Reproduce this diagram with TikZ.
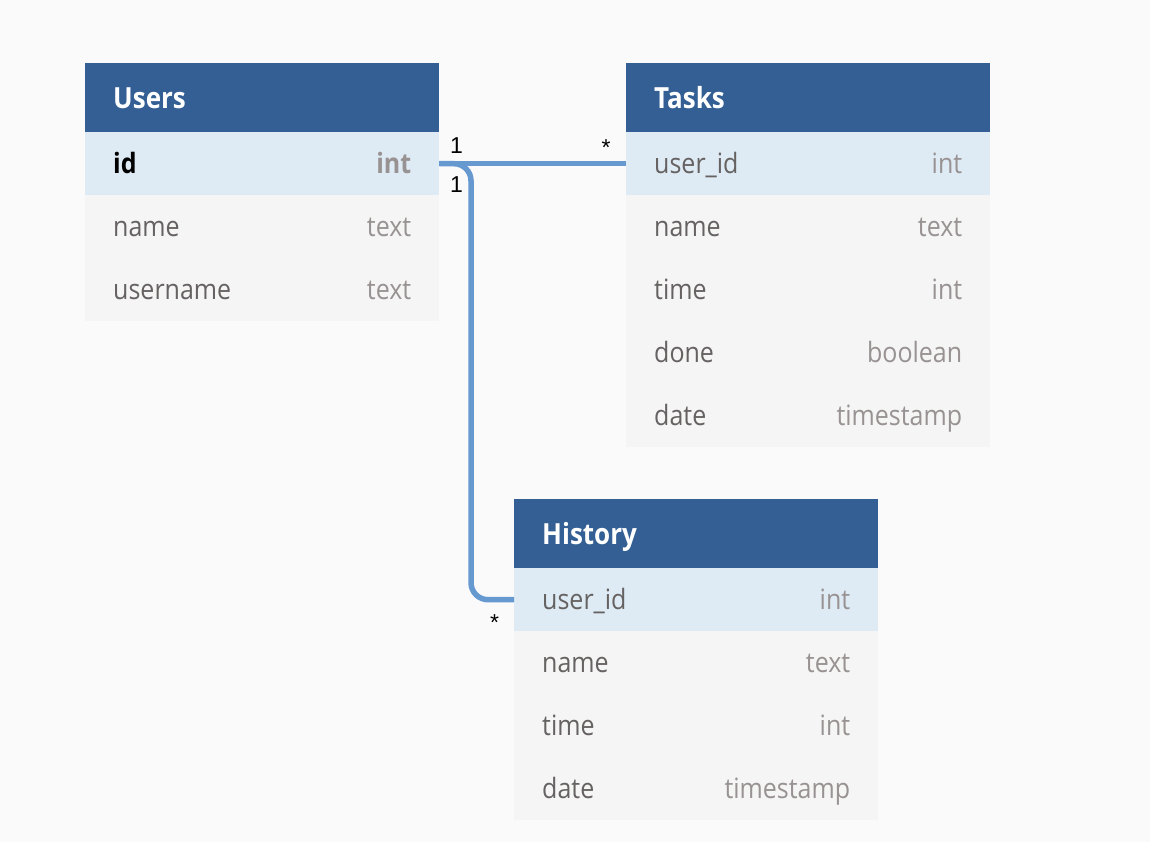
\documentclass[tikz,border=0pt]{standalone}
\usepackage{graphicx}
\usepackage{fontspec}
\setmainfont{Open Sans}
\newfontfamily\cardfont{Liberation Sans}
\usetikzlibrary{calc}
\usetikzlibrary{positioning}

\definecolor{bgcol}{HTML}{FAFAFA}
\definecolor{headblue}{HTML}{335F94}
\definecolor{keyblue}{HTML}{DEEBF5}
\definecolor{plainrow}{HTML}{F5F5F5}
\definecolor{fieldgray}{HTML}{666262}
\definecolor{typegray}{HTML}{989292}
\definecolor{linkblue}{HTML}{6699D0}

\tikzset{
    tbl/.style={anchor=north west, inner xsep=28pt, inner ysep=0pt, align=left, text width=#1},
    tblhead/.style={tbl=#1, fill=headblue, text=white, minimum height=69pt,
        font=\fontsize{26}{30}\selectfont\bfseries, text height=22pt, text depth=1pt},
    tblrow/.style={tbl=#1, fill=plainrow, text=fieldgray, minimum height=63pt,
        font=\fontsize{25}{30}\selectfont, text height=20pt, text depth=1pt},
    keyrow/.style={fill=keyblue},
    link/.style={draw=linkblue, line width=5.5pt, rounded corners=17pt},
    card/.style={font=\cardfont\fontsize{23}{26}\selectfont, inner sep=0pt, text height=16pt, text depth=0pt}
}
\newcommand\fld[1]{\scalebox{1}[1.12]{#1}}
\newcommand\ftype[1]{\hfill{\color{typegray}\fld{#1}}}

\begin{document}
\begin{tikzpicture}[x=1pt,y=-1pt]
    \fill[bgcol] (0,0) rectangle (1150,842);
    \useasboundingbox (0,0) rectangle (1150,842);

    % Users
    \node[tblhead=298pt] (users) at (85,63) {\fld{Users}};
    \node[tblrow=298pt, keyrow, text=black] (users-id) at (85,132)
        {\fld{\textbf{id}}\ftype{\textbf{int}}};
    \foreach \fname/\ftyp [count=\i] in {name/text, username/text}
        \node[tblrow=298pt] (users-\i) at (85,{132+63*\i}) {\fld{\fname}\ftype{\ftyp}};

    % Tasks
    \node[tblhead=308pt] (tasks) at (626,63) {\fld{Tasks}};
    \node[tblrow=308pt, keyrow] (tasks-uid) at (626,132) {\fld{user\_id}\ftype{int}};
    \foreach \fname/\ftyp [count=\i] in {name/text, time/int, done/boolean, date/timestamp}
        \node[tblrow=308pt] (tasks-\i) at (626,{132+63*\i}) {\fld{\fname}\ftype{\ftyp}};

    % History
    \node[tblhead=308pt] (history) at (514,499) {\fld{History}};
    \node[tblrow=308pt, keyrow] (history-uid) at (514,568) {\fld{user\_id}\ftype{int}};
    \foreach \fname/\ftyp [count=\i] in {name/text, time/int, date/timestamp}
        \node[tblrow=308pt] (history-\i) at (514,{568+63*\i}) {\fld{\fname}\ftype{\ftyp}};

    % relations
    \coordinate (bend) at (471,380);
    \draw[link] (users-id.east) -- (tasks-uid.west);
    \draw[link] (users-id.east) -| (bend) |- (history-uid.west);

    \node[card] (one-tasks) at ($(users-id.east)+(17,-18)$) {1};
    \node[card] (one-history) at ($(users-id.east)+(17,21)$) {1};
    \node[card] (many-tasks) at ($(tasks-uid.west)+(-20,-16.5)$) {*};
    \node[card] (many-history) at ($(history-uid.west)+(-19.5,23)$) {*};
\end{tikzpicture}
\end{document}
